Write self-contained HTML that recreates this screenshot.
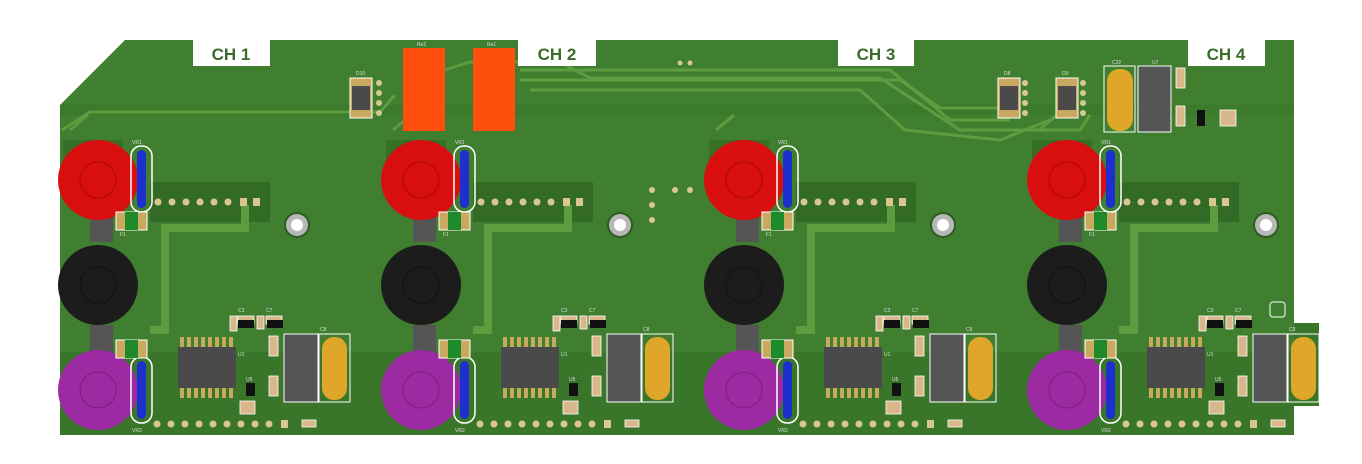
<!DOCTYPE html>
<html><head><meta charset="utf-8"><style>
html,body{margin:0;padding:0;background:#fff;width:1362px;height:464px;overflow:hidden}
svg{display:block}
text{font-family:"Liberation Sans",sans-serif}
</style></head><body>
<svg width="1362" height="464" viewBox="0 0 1362 464" xmlns="http://www.w3.org/2000/svg">
<defs>
<g id="ch">
  <!-- dark regions -->
  <rect x="63" y="140" width="60" height="50" fill="#376f28"/>
  <rect x="150" y="182" width="120" height="40" fill="#336b26"/>
  <!-- traces -->
  <path d="M245 205 V228 H165 V330 H150" fill="none" stroke="#5f9b3f" stroke-width="8"/>
  <path d="M70 130 L88 115" fill="none" stroke="#5f9b3f" stroke-width="3"/>
  <!-- grey connectors -->
  <rect x="90" y="212" width="23" height="30" fill="#555"/>
  <rect x="90" y="325" width="23" height="30" fill="#555"/>
  <!-- buttons -->
  <circle cx="98" cy="180" r="40" fill="#d90f0f"/>
  <circle cx="98" cy="180" r="18" fill="none" stroke="#a90808" stroke-width="1"/>
  <circle cx="98" cy="285" r="40" fill="#1c1c1c"/>
  <circle cx="98" cy="285" r="18" fill="none" stroke="#111" stroke-width="1"/>
  <circle cx="98" cy="390" r="40" fill="#9b2aa3"/>
  <circle cx="98" cy="390" r="18" fill="none" stroke="#7a1e80" stroke-width="1"/>
  <!-- VR ovals -->
  <rect x="131" y="146" width="21" height="66" rx="10" fill="none" stroke="#fff" stroke-width="1.5"/>
  <rect x="137" y="150" width="9" height="58" rx="4.5" fill="#1d2fcf"/>
  <rect x="131" y="357" width="21" height="66" rx="10" fill="none" stroke="#fff" stroke-width="1.5"/>
  <rect x="137" y="361" width="9" height="58" rx="4.5" fill="#1d2fcf"/>
  <!-- fuses -->
  <rect x="116" y="212" width="31" height="18" fill="#c9a860" stroke="#fff"/>
  <rect x="125" y="212" width="13" height="18" fill="#1f8a2a"/>
  <rect x="116" y="340" width="31" height="18" fill="#c9a860" stroke="#fff"/>
  <rect x="125" y="340" width="13" height="18" fill="#1f8a2a"/>
  <!-- header pins -->
  <g fill="#d8c890">
   <circle cx="158" cy="202" r="3.5"/><circle cx="172" cy="202" r="3.5"/><circle cx="186" cy="202" r="3.5"/><circle cx="200" cy="202" r="3.5"/><circle cx="214" cy="202" r="3.5"/><circle cx="228" cy="202" r="3.5"/><rect x="240" y="198" width="7" height="8"/><rect x="253" y="198" width="7" height="8"/>
   <circle cx="157" cy="424" r="3.5"/><circle cx="171" cy="424" r="3.5"/><circle cx="185" cy="424" r="3.5"/><circle cx="199" cy="424" r="3.5"/><circle cx="213" cy="424" r="3.5"/><circle cx="227" cy="424" r="3.5"/><circle cx="241" cy="424" r="3.5"/><circle cx="255" cy="424" r="3.5"/><circle cx="269" cy="424" r="3.5"/><rect x="281" y="420" width="7" height="8"/>
  </g>
  <!-- mounting hole -->
  <circle cx="297" cy="225" r="13" fill="#2d5d22"/>
  <circle cx="297" cy="225" r="11" fill="#b8b8b8"/>
  <circle cx="297" cy="225" r="6" fill="#fff"/>
  <!-- IC -->
  <g fill="#c9a860">
   <rect x="180" y="337" width="4" height="10"/><rect x="187" y="337" width="4" height="10"/><rect x="194" y="337" width="4" height="10"/><rect x="201" y="337" width="4" height="10"/><rect x="208" y="337" width="4" height="10"/><rect x="215" y="337" width="4" height="10"/><rect x="222" y="337" width="4" height="10"/><rect x="229" y="337" width="4" height="10"/>
   <rect x="180" y="388" width="4" height="10"/><rect x="187" y="388" width="4" height="10"/><rect x="194" y="388" width="4" height="10"/><rect x="201" y="388" width="4" height="10"/><rect x="208" y="388" width="4" height="10"/><rect x="215" y="388" width="4" height="10"/><rect x="222" y="388" width="4" height="10"/><rect x="229" y="388" width="4" height="10"/>
  </g>
  <rect x="178" y="347" width="58" height="41" fill="#4a4a4a"/>
  <!-- small components -->
  <rect x="238" y="316" width="16" height="8" fill="#d8b88a" stroke="#fff" stroke-width=".8"/>
  <rect x="266" y="316" width="16" height="8" fill="#d8b88a" stroke="#fff" stroke-width=".8"/>
  <rect x="230" y="316" width="7" height="15" fill="#d8b88a" stroke="#fff" stroke-width=".8"/>
  <rect x="238" y="320" width="16" height="8" fill="#111"/>
  <rect x="267" y="320" width="16" height="8" fill="#111"/>
  <rect x="257" y="316" width="7" height="13" fill="#d8b88a" stroke="#fff" stroke-width=".8"/>
  <rect x="269" y="336" width="9" height="20" fill="#d8b88a" stroke="#fff" stroke-width=".8"/>
  <rect x="269" y="376" width="9" height="20" fill="#d8b88a" stroke="#fff" stroke-width=".8"/>
  <rect x="246" y="383" width="9" height="13" fill="#111"/>
  <rect x="240" y="401" width="15" height="13" fill="#d8b88a" stroke="#fff" stroke-width=".8"/>
  <rect x="302" y="420" width="14" height="7" fill="#d8b88a" stroke="#fff" stroke-width=".8"/>
  <!-- C8 -->
  <rect x="284" y="334" width="34" height="68" fill="#555" stroke="#fff" stroke-width="1"/>
  <rect x="319" y="334" width="31" height="68" fill="none" stroke="#fff" stroke-width="1"/>
  <rect x="322" y="337" width="25" height="63" rx="12" fill="#e0a62a"/>
  <g font-size="5" fill="#ddd">
   <text x="132" y="144">VR1</text><text x="120" y="236">F1</text><text x="132" y="432">VR2</text>
   <text x="238" y="312">C3</text><text x="266" y="312">C7</text><text x="320" y="331">C8</text>
   <text x="238" y="356">U1</text><text x="246" y="381">U5</text>
  </g>
</g>
</defs>

<!-- board -->
<path d="M125 40 H1294 V323 H1319 V406 H1294 V435 H115 V418 H60 V105 Z" fill="#3f7f2f"/>
<!-- darker bands -->
<rect x="60" y="352" width="1234" height="83" fill="#3a7629"/>
<rect x="60" y="105" width="1234" height="10" fill="#3b792b"/>
<rect x="60" y="352" width="55" height="66" fill="#3a7629"/>
<rect x="1294" y="323" width="25" height="83" fill="#3a7629"/>

<!-- top traces -->
<g fill="none" stroke="#5f9b3f" stroke-width="3">
 <path d="M62 130 L90 112 H380 L395 95"/>
 <path d="M445 70 L470 62 H560 L590 78 H880 L960 130 H1080 L1090 115"/>
 <path d="M520 70 H890 L950 120 H1010"/>
 <path d="M520 80 H900 L940 108 H1000"/>
 <path d="M530 90 H860 L905 130 L1000 140 L1050 120"/>
</g>

<use href="#ch"/>
<use href="#ch" x="323"/>
<use href="#ch" x="646"/>
<use href="#ch" x="969"/>

<!-- relays -->
<rect x="403" y="48" width="42" height="83" fill="#ff4f0f"/>
<rect x="473" y="48" width="42" height="83" fill="#ff4f0f"/>
<!-- diodes -->
<g stroke="#fff" stroke-width="1">
 <rect x="350" y="78" width="22" height="40" fill="#c9a860"/>
 <rect x="998" y="78" width="22" height="40" fill="#c9a860"/>
 <rect x="1056" y="78" width="22" height="40" fill="#c9a860"/>
</g>
<rect x="352" y="86" width="18" height="24" fill="#4a4a4a"/>
<rect x="1000" y="86" width="18" height="24" fill="#4a4a4a"/>
<rect x="1058" y="86" width="18" height="24" fill="#4a4a4a"/>
<g fill="#d8c890">
 <circle cx="379" cy="83" r="3"/><circle cx="379" cy="93" r="3"/><circle cx="379" cy="103" r="3"/><circle cx="379" cy="113" r="3"/>
 <circle cx="1025" cy="83" r="3"/><circle cx="1025" cy="93" r="3"/><circle cx="1025" cy="103" r="3"/><circle cx="1025" cy="113" r="3"/>
 <circle cx="1083" cy="83" r="3"/><circle cx="1083" cy="93" r="3"/><circle cx="1083" cy="103" r="3"/><circle cx="1083" cy="113" r="3"/>
 <circle cx="652" cy="190" r="3"/><circle cx="675" cy="190" r="3"/><circle cx="690" cy="190" r="3"/><circle cx="652" cy="205" r="3"/><circle cx="652" cy="220" r="3"/>
 <circle cx="680" cy="63" r="2.5"/><circle cx="690" cy="63" r="2.5"/>
</g>
<!-- C22/U7 -->
<rect x="1104" y="66" width="31" height="66" fill="none" stroke="#fff"/>
<rect x="1107" y="69" width="26" height="62" rx="12" fill="#e0a62a"/>
<rect x="1138" y="66" width="33" height="66" fill="#555" stroke="#fff"/>
<rect x="1176" y="68" width="9" height="20" fill="#d8b88a" stroke="#fff" stroke-width=".8"/>
<rect x="1176" y="106" width="9" height="20" fill="#d8b88a" stroke="#fff" stroke-width=".8"/>
<rect x="1197" y="110" width="8" height="16" fill="#111"/>
<rect x="1220" y="110" width="16" height="16" fill="#d8b88a" stroke="#fff" stroke-width=".8"/>
<rect x="1270" y="302" width="15" height="15" rx="3" fill="none" stroke="#fff"/>

<!-- labels -->
<g fill="#fff">
 <rect x="193" y="40" width="77" height="26"/>
 <rect x="518" y="40" width="78" height="26"/>
 <rect x="838" y="40" width="76" height="26"/>
 <rect x="1188" y="40" width="77" height="26"/>
</g>
<g font-size="17" font-weight="bold" fill="#3a6b2a" text-anchor="middle">
 <text x="231" y="60">CH 1</text>
 <text x="557" y="60">CH 2</text>
 <text x="876" y="60">CH 3</text>
 <text x="1226" y="60">CH 4</text>
</g>
<g font-size="5" fill="#ddd">
 <text x="417" y="46">Re2</text><text x="487" y="46">Re1</text><text x="356" y="75">D10</text>
 <text x="1004" y="75">D8</text><text x="1062" y="75">D9</text><text x="1112" y="64">C22</text><text x="1152" y="64">U7</text>
</g>
</svg>
</body></html>
